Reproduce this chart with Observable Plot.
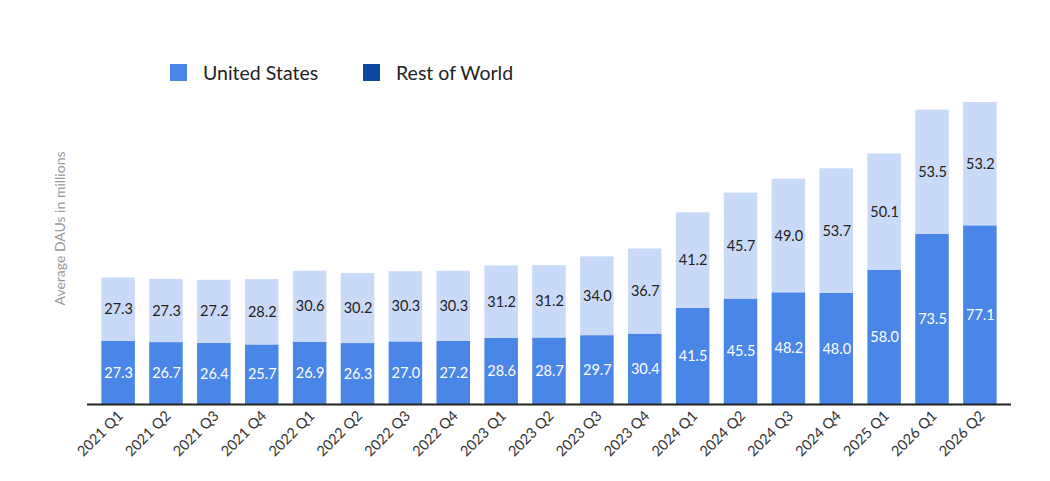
<!DOCTYPE html>
<html>
<head>
<meta charset="utf-8">
<script src="https://cdn.jsdelivr.net/npm/d3@7"></script>
<script src="https://cdn.jsdelivr.net/npm/@observablehq/plot@0.6"></script>
<style>
  body { margin: 0; background: #ffffff; font-family: Lato, "Open Sans", sans-serif; }
  #legend { position: relative; height: 95px; width: 1050px; }
  .item { position: absolute; top: 61px; display: flex; align-items: center; font-size: 19.5px; color: #222; line-height: 23px; }
  .sw { width: 17px; height: 17px; margin-right: 16px; }
</style>
</head>
<body>
<div id="legend"></div>
<div id="chart"></div>
<script>
const quarters = [
  "2021 Q1", "2021 Q2", "2021 Q3", "2021 Q4",
  "2022 Q1", "2022 Q2", "2022 Q3", "2022 Q4",
  "2023 Q1", "2023 Q2", "2023 Q3", "2023 Q4",
  "2024 Q1", "2024 Q2", "2024 Q3", "2024 Q4",
  "2025 Q1", "2026 Q1", "2026 Q2"
];
const unitedStates = [27.3, 26.7, 26.4, 25.7, 26.9, 26.3, 27.0, 27.2, 28.6, 28.7, 29.7, 30.4, 41.5, 45.5, 48.2, 48.0, 58.0, 73.5, 77.1];
const restOfWorld  = [27.3, 27.3, 27.2, 28.2, 30.6, 30.2, 30.3, 30.3, 31.2, 31.2, 34.0, 36.7, 41.2, 45.7, 49.0, 53.7, 50.1, 53.5, 53.2];
const seriesNames = ["United States", "Rest of World"];
const barColors = ["#4a86e8", "#c9daf8"];
const legendColors = ["#4a86e8", "#0d47a1"];
const yTitle = "Average DAUs in millions";

// legend
const legendLefts = [170, 363];
const legend = document.getElementById("legend");
seriesNames.forEach((name, i) => {
  const item = document.createElement("div");
  item.className = "item";
  item.style.left = legendLefts[i] + "px";
  const sw = document.createElement("span");
  sw.className = "sw";
  sw.style.background = legendColors[i];
  const label = document.createElement("span");
  label.textContent = name;
  item.append(sw, label);
  legend.append(item);
});

const rows = quarters.flatMap((q, i) => [
  {quarter: q, series: seriesNames[0], value: unitedStates[i]},
  {quarter: q, series: seriesNames[1], value: restOfWorld[i]}
]);
const totals = quarters.map((q, i) => unitedStates[i] + restOfWorld[i]);

const chart = Plot.plot({
  width: 1050,
  height: 386,
  marginTop: 7,
  marginBottom: 77,
  marginLeft: 87,
  marginRight: 39,
  style: {fontFamily: "Lato, 'Open Sans', sans-serif", background: "transparent", color: "#333"},
  x: {domain: quarters, padding: 0.3, round: false, axis: null},
  y: {domain: [0, d3.max(totals)], axis: null},
  color: {domain: seriesNames, range: barColors},
  marks: [
    Plot.barY(rows, {x: "quarter", y: "value", fill: "series", z: "series"}),
    Plot.text(quarters, {
      x: d => d, y: (d, i) => unitedStates[i] / 2,
      text: (d, i) => unitedStates[i].toFixed(1), fill: "white", fontSize: 14.5
    }),
    Plot.text(quarters, {
      x: d => d, y: (d, i) => unitedStates[i] + restOfWorld[i] / 2,
      text: (d, i) => restOfWorld[i].toFixed(1), fill: "#222", fontSize: 14.5
    }),
    Plot.axisX({tickSize: 0, tickRotate: -45, tickPadding: 9, fontSize: 14.5, label: null, fill: "#333", dx: 2}),
    Plot.ruleY([0], {stroke: "#222", strokeWidth: 2}),
    Plot.text([yTitle], {frameAnchor: "top-left", dx: -27, dy: 126, rotate: -90, textAnchor: "middle", lineAnchor: "middle", fill: "#999", fontSize: 14})
  ]
});
document.getElementById("chart").append(chart);
</script>
</body>
</html>
